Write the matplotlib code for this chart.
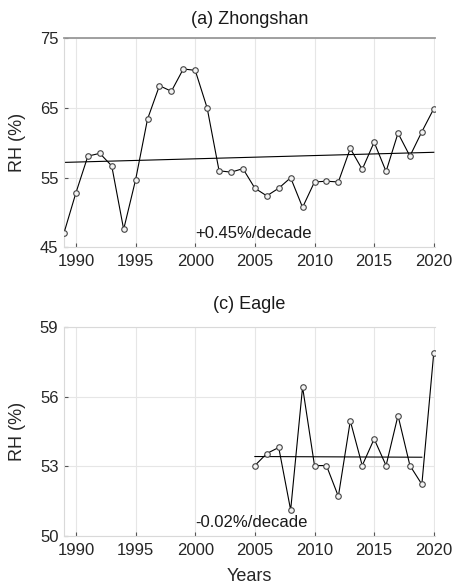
import matplotlib
matplotlib.use("Agg")
import matplotlib.pyplot as plt
import numpy as np

plt.rcParams['font.family'] = ['Liberation Sans', 'DejaVu Sans']

# ---- data ----
zs_years = list(range(1989, 2021))
zs_rh = [47.1, 52.85, 58.1, 58.5, 56.7, 47.6, 54.7, 63.4, 68.2, 67.4, 70.6, 70.4,
         65.0, 56.0, 55.8, 56.3, 53.5, 52.4, 53.5, 55.0, 50.75, 54.4, 54.5, 54.4,
         59.2, 56.2, 60.1, 55.9, 61.4, 58.1, 61.6, 64.9]
zs_trend_years = [1989, 2020]
zs_trend_vals = [57.2, 58.65]
zs_trend_label = "+0.45%/decade"

eg_years = list(range(2005, 2021))
eg_rh = [53.04, 53.56, 53.82, 51.12, 56.43, 53.04, 53.04, 51.71, 54.97, 53.04,
         54.19, 53.04, 55.2, 53.04, 52.23, 57.92]
eg_trend_years = [2005, 2019]
eg_trend_vals = [53.43, 53.40]
eg_trend_label = "-0.02%/decade"

x_ticks = [1990, 1995, 2000, 2005, 2010, 2015, 2020]
zs_yticks = [45, 55, 65, 75]
eg_yticks = [50, 53, 56, 59]

fig = plt.figure(figsize=(4.55, 5.87), dpi=100)
ax1 = fig.add_axes([0.1407, 0.5784, 0.8153, 0.3564])
ax2 = fig.add_axes([0.1407, 0.0869, 0.8153, 0.3552])

def style(ax, yticks, ylim):
    ax.set_xlim(1989, 2020.1)
    ax.set_ylim(*ylim)
    ax.set_xticks(x_ticks)
    ax.set_yticks(yticks)
    ax.grid(True, color='#e6e6e6', lw=0.8)
    ax.set_axisbelow(True)
    ax.tick_params(direction='in', length=3, width=0.8, color='#555555',
                   labelsize=12, labelcolor='#262626')
    ax.tick_params(axis='x', pad=5)
    ax.tick_params(axis='y', pad=4)
    for s in ['left', 'bottom', 'top']:
        ax.spines[s].set_color('#d9d9d9')
        ax.spines[s].set_linewidth(0.8)
    ax.spines['right'].set_visible(False)
    ax.set_ylabel('RH (%)', fontsize=13, color='#262626', labelpad=10)

def draw(ax, yrs, vals, ty, tv):
    ax.plot(yrs, vals, color='black', lw=0.8, marker='o', ms=4.0,
            mfc='#f2f2f2', mec='#444444', mew=0.8, zorder=3)
    ax.plot(ty, tv, color='black', lw=0.8, zorder=2)

style(ax1, zs_yticks, (45, 75))
draw(ax1, zs_years, zs_rh, zs_trend_years, zs_trend_vals)
ax1.spines['top'].set_color('#999999')
ax1.spines['top'].set_linewidth(1.3)
ax1.set_title('(a) Zhongshan', fontsize=13, pad=10, color='#1a1a1a')
ax1.text(2000, 46.0, zs_trend_label, fontsize=12, ha='left', va='bottom', color='#1a1a1a')

style(ax2, eg_yticks, (50, 59))
draw(ax2, eg_years, eg_rh, eg_trend_years, eg_trend_vals)
ax2.set_title('(c) Eagle', fontsize=13, pad=13.5, color='#1a1a1a')
ax2.text(2000, 50.25, eg_trend_label, fontsize=12, ha='left', va='bottom', color='#1a1a1a')
ax2.set_xlabel('Years', fontsize=13, color='#262626', labelpad=7)

fig.savefig('out.png', dpi=100)
